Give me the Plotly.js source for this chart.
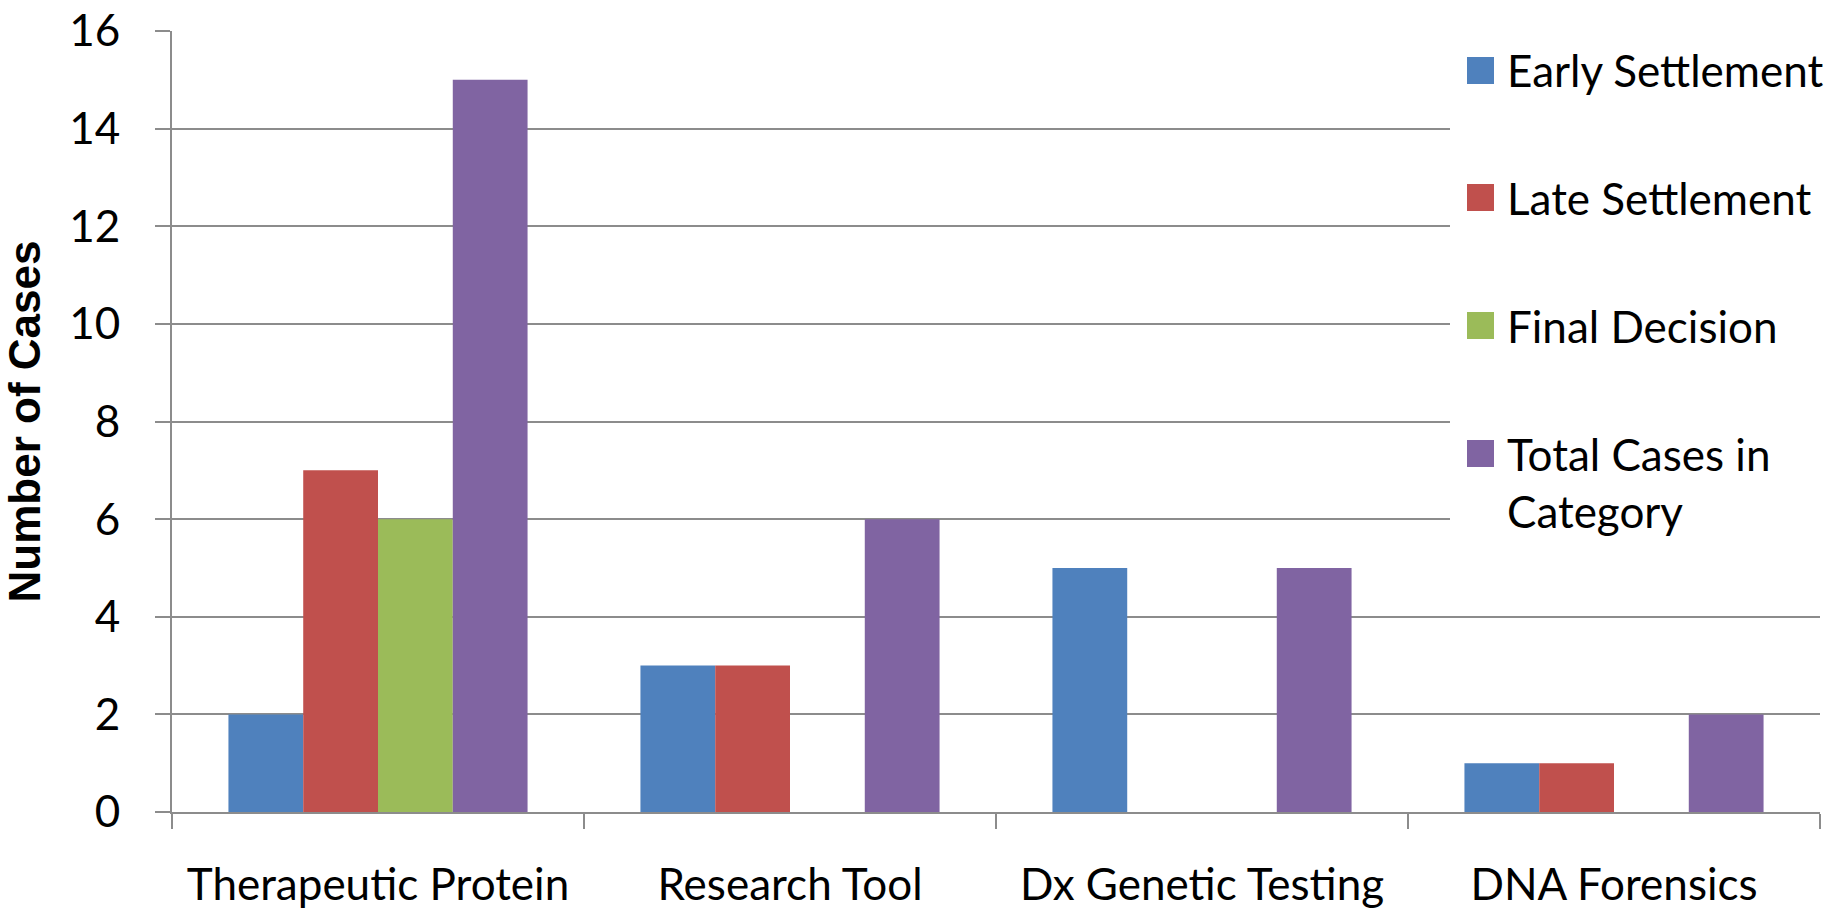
<!DOCTYPE html>
<html>
<head>
<meta charset="utf-8">
<script src="https://cdn.plot.ly/plotly-3.0.1.min.js"></script>
<style>
  html, body { margin: 0; padding: 0; background: #ffffff; }
  #chart { width: 1833px; height: 910px; }
</style>
</head>
<body>
<div id="chart"></div>
<script>
// ---- data ----
var categories = ["Therapeutic Protein", "Research Tool", "Dx Genetic Testing", "DNA Forensics"];
var seriesNames = ["Early Settlement", "Late Settlement", "Final Decision", "Total Cases in Category"];
var legendLabels = ["Early Settlement", "Late Settlement", "Final Decision", "Total Cases in<br>Category"];
var earlySettlement = [2, 3, 5, 1];
var lateSettlement  = [7, 3, 0, 1];
var finalDecision   = [6, 0, 0, 0];
var totalCases      = [15, 6, 5, 2];
var yTicks = [0, 2, 4, 6, 8, 10, 12, 14, 16];

// ---- styles ----
var colors = ["#4F81BD", "#C0504D", "#9BBB59", "#8064A2"];
var seriesValues = [earlySettlement, lateSettlement, finalDecision, totalCases];
var FONT = "Lato, 'Open Sans', sans-serif";
var GRID = "#8c8c8c";

var W = 1833, H = 910;
var L = 172, R = 13, T = 31, B = 98;
var plotW = W - L - R, plotH = H - T - B;
function px2x(px) { return (px - L) / plotW; }
function px2y(py) { return (H - B - py) / plotH; }

var traces = seriesValues.map(function (vals, i) {
  return {
    type: "bar",
    name: seriesNames[i],
    x: categories,
    y: vals,
    marker: { color: colors[i], line: { width: 0 } },
    showlegend: false,
    hoverinfo: "x+y+name"
  };
});

// manual legend (large squares like the original)
var shapes = [{
  type: "rect", xref: "paper", yref: "paper", layer: "above",
  x0: px2x(1450), x1: px2x(1833), y0: px2y(560), y1: px2y(42),
  fillcolor: "#ffffff", line: { width: 0 }
}];
var annotations = [];
var itemCenters = [70.5, 197.5, 325.5, 453.5];
var sq = 27;
for (var i = 0; i < seriesNames.length; i++) {
  var cy = itemCenters[i];
  shapes.push({
    type: "rect", xref: "paper", yref: "paper", layer: "above",
    x0: px2x(1467), x1: px2x(1467 + sq), y0: px2y(cy + sq / 2), y1: px2y(cy - sq / 2),
    fillcolor: colors[i], line: { width: 0 }
  });
  var multi = legendLabels[i].indexOf("<br>") >= 0;
  annotations.push({
    xref: "paper", yref: "paper",
    x: px2x(1505), y: multi ? px2y(cy - 28) : px2y(cy),
    xanchor: "left", yanchor: multi ? "top" : "middle",
    align: "left", showarrow: false,
    text: legendLabels[i],
    font: { family: FONT, size: 44, color: "#000000" }
  });
}

var layout = {
  width: W, height: H,
  margin: { l: L, r: R, t: T, b: B, pad: 0 },
  paper_bgcolor: "#ffffff",
  plot_bgcolor: "#ffffff",
  barmode: "group",
  bargap: 0.274,
  bargroupgap: 0,
  showlegend: false,
  font: { family: FONT, size: 44, color: "#000000" },
  xaxis: {
    type: "category",
    tickson: "boundaries",
    ticks: "outside",
    ticklen: 15,
    tickwidth: 2,
    tickcolor: GRID,
    showgrid: false,
    showline: true,
    linecolor: GRID,
    linewidth: 2,
    zeroline: false,
    ticklabelstandoff: 33,
    tickfont: { family: FONT, size: 44, color: "#000000" },
    automargin: false,
    fixedrange: true
  },
  yaxis: {
    range: [0, 16],
    tickmode: "array",
    tickvals: yTicks,
    ticktext: yTicks.map(String),
    ticks: "outside",
    ticklen: 15,
    tickwidth: 2,
    tickcolor: GRID,
    showgrid: true,
    gridcolor: GRID,
    gridwidth: 2,
    showline: true,
    linecolor: GRID,
    linewidth: 2,
    zeroline: false,
    ticklabelstandoff: 26,
    tickfont: { family: FONT, size: 44, color: "#000000" },
    title: {
      text: "<b>Number of Cases</b>",
      font: { family: "'Liberation Sans', Arial, sans-serif", size: 44, color: "#000000" },
      standoff: 18
    },
    automargin: false,
    fixedrange: true
  },
  shapes: shapes,
  annotations: annotations
};

Plotly.newPlot("chart", traces, layout, { staticPlot: true, displayModeBar: false });
</script>
</body>
</html>
